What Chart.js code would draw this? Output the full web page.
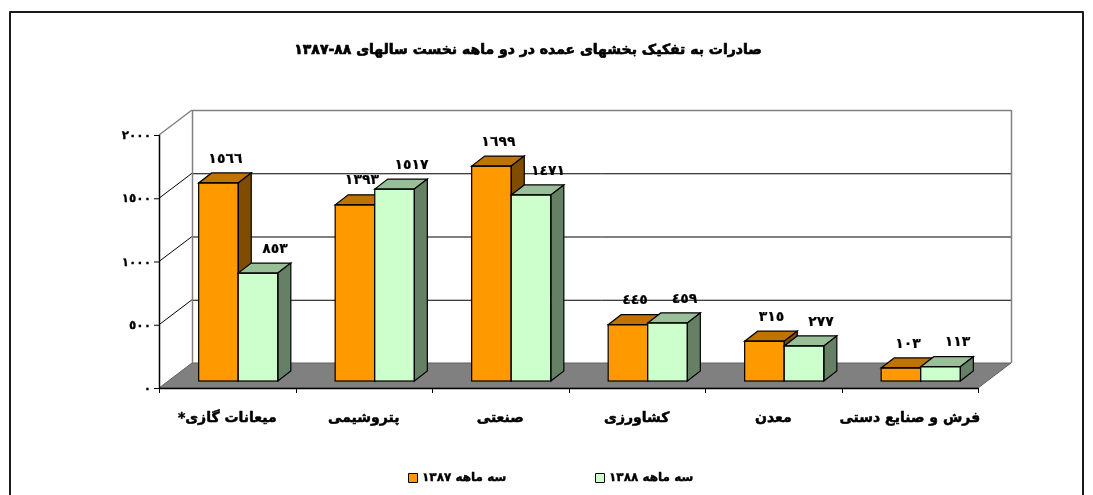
<!DOCTYPE html>
<html>
<head>
<meta charset="utf-8">
<script src="https://cdn.jsdelivr.net/npm/chart.js@4/dist/chart.umd.min.js"></script>
<style>
html,body{margin:0;padding:0;background:#fff;}
#wrap{width:1093px;height:495px;position:relative;}
</style>
</head>
<body>
<div id="wrap"><canvas id="c"></canvas></div>
<script>
// ---- data ----
const categories = ['میعانات گازی*', 'پتروشیمی', 'صنعتی', 'کشاورزی', 'معدن', 'فرش و صنایع دستی'];
const series1387 = [1566, 1393, 1699, 445, 315, 103];
const series1388 = [853, 1517, 1471, 459, 277, 113];
const seriesNames = ['سه ماهه ۱۳۸۷', 'سه ماهه ۱۳۸۸'];
const yTickValues = [0, 500, 1000, 1500, 2000];
const yTickLabels = ['٠', '٥٠٠', '١٠٠٠', '١٥٠٠', '٢٠٠٠'];
const chartTitle = 'صادرات به تفکیک بخشهای عمده در دو ماهه نخست سالهای ۸۸-۱۳۸۷';

const AR = '٠١٢٣٤٥٦٧٨٩';
function toAr(n){ return String(n).replace(/[0-9]/g, d => AR[+d]); }

const FONT = "'DejaVu Sans', sans-serif";
const FRONT = {dx: -11, dy: 7};
const BACK = {dx: 22, dy: -18};
const DEPTH = {dx: 13, dy: -10};
const faceColors = [
  {front: '#FF9900', top: '#BF7300', side: '#804D00'},
  {front: '#CCFFCC', top: '#99BF99', side: '#668066'}
];
const labelDx = [7, 17];

function poly(ctx, pts, fill, stroke, lw){
  ctx.beginPath();
  ctx.moveTo(pts[0][0], pts[0][1]);
  for (let i = 1; i < pts.length; i++) ctx.lineTo(pts[i][0], pts[i][1]);
  ctx.closePath();
  if (fill){ ctx.fillStyle = fill; ctx.fill(); }
  if (stroke){ ctx.strokeStyle = stroke; ctx.lineWidth = lw || 1; ctx.stroke(); }
}
function line(ctx, x0, y0, x1, y1, color, lw){
  ctx.beginPath(); ctx.moveTo(x0, y0); ctx.lineTo(x1, y1);
  ctx.strokeStyle = color; ctx.lineWidth = lw || 1; ctx.stroke();
}
function heavyText(ctx, s, x, y, sw){
  ctx.fillText(s, x, y);
  if (sw){ ctx.lineWidth = sw; ctx.strokeStyle = ctx.fillStyle; ctx.lineJoin = 'round'; ctx.strokeText(s, x, y); }
}

const excel3d = {
  id: 'excel3d',
  beforeDatasetsDraw(chart){
    const ctx = chart.ctx, a = chart.chartArea, ys = chart.scales.y, xs = chart.scales.x;
    ctx.save();
    const fx0 = a.left + FRONT.dx, fx1 = a.right + FRONT.dx;
    const bx0 = a.left + BACK.dx, bx1 = a.right + BACK.dx;
    const y0 = ys.getPixelForValue(0), yTop = ys.getPixelForValue(yTickValues[yTickValues.length-1]);
    // floor
    poly(ctx, [[fx0, y0+FRONT.dy],[fx1, y0+FRONT.dy],[bx1, y0+BACK.dy],[bx0, y0+BACK.dy]], '#808080', '#606060', 1);
    // gridlines
    yTickValues.forEach(v => {
      const y = ys.getPixelForValue(v);
      if (v === 0) return;
      const isTop = v === yTickValues[yTickValues.length-1];
      const col = isTop ? '#808080' : '#000000';
      line(ctx, bx0, y + BACK.dy + 0.5, bx1, y + BACK.dy + 0.5, col, isTop ? 1.5 : 1);
      line(ctx, fx0, y + FRONT.dy, bx0, y + BACK.dy, col, isTop ? 1.5 : 1);
    });
    // back wall edges
    line(ctx, bx0 + 0.5, yTop + BACK.dy, bx0 + 0.5, y0 + BACK.dy, '#808080', 1.5);
    line(ctx, bx1 + 0.5, yTop + BACK.dy, bx1 + 0.5, y0 + BACK.dy, '#808080', 1.5);
    // front value axis
    line(ctx, fx0 + 0.5, yTop + FRONT.dy, fx0 + 0.5, y0 + FRONT.dy, '#000', 1.5);
    ctx.font = 'bold 12px ' + FONT;
    ctx.fillStyle = '#000';
    ctx.textBaseline = 'middle';
    ctx.direction = 'ltr';
    yTickValues.forEach((v, i) => {
      const y = ys.getPixelForValue(v) + FRONT.dy;
      line(ctx, fx0 - 5, y + 0.5, fx0, y + 0.5, '#000', 1);
      ctx.textAlign = 'right';
      heavyText(ctx, yTickLabels[i], fx0 - 8, y + 1, 0.3);
    });
    // front category axis
    line(ctx, fx0, y0 + FRONT.dy + 0.5, fx1, y0 + FRONT.dy + 0.5, '#000', 1.5);
    const n = categories.length;
    const cw = (a.right - a.left) / n;
    for (let i = 0; i <= n; i++){
      const x = Math.round(a.left + i * cw + FRONT.dx) + 0.5;
      line(ctx, x, y0 + FRONT.dy, x, y0 + FRONT.dy + 5, '#000', 1);
    }
    ctx.direction = 'rtl';
    ctx.font = 'bold 14px ' + FONT;
    ctx.textAlign = 'center';
    categories.forEach((c, i) => {
      const x = xs.getPixelForValue(i) + FRONT.dx;
      heavyText(ctx, c, x, y0 + FRONT.dy + 30, 0.5);
    });
    ctx.restore();
  },
  beforeDatasetDraw(){ return false; },
  afterDatasetsDraw(chart){
    const ctx = chart.ctx;
    const metas = chart.data.datasets.map((d, i) => chart.getDatasetMeta(i));
    ctx.save();
    for (let c = 0; c < categories.length; c++){
      metas.forEach((meta, di) => {
        const bar = meta.data[c];
        const col = faceColors[di];
        bar.draw(ctx, chart.chartArea);
        const p = bar.getProps(['x','y','base','width'], true);
        const x0 = p.x - p.width/2, x1 = p.x + p.width/2;
        const yt = Math.min(p.y, p.base), yb = Math.max(p.y, p.base);
        poly(ctx, [[x0, yt],[x1, yt],[x1+DEPTH.dx, yt+DEPTH.dy],[x0+DEPTH.dx, yt+DEPTH.dy]], col.top, '#000', 1.2);
        poly(ctx, [[x1, yt],[x1+DEPTH.dx, yt+DEPTH.dy],[x1+DEPTH.dx, yb+DEPTH.dy],[x1, yb]], col.side, '#000', 1.2);
        ctx.strokeStyle = '#000'; ctx.lineWidth = 1.2;
        ctx.strokeRect(x0, yt, x1 - x0, yb - yt);
      });
    }
    ctx.restore();
  },
  afterDraw(chart){
    const ctx = chart.ctx;
    ctx.save();
    ctx.fillStyle = '#000';
    // data labels
    ctx.direction = 'ltr';
    ctx.font = 'bold 14px ' + FONT;
    ctx.textAlign = 'center';
    ctx.textBaseline = 'middle';
    chart.data.datasets.forEach((ds, di) => {
      const meta = chart.getDatasetMeta(di);
      meta.data.forEach((bar, i) => {
        heavyText(ctx, toAr(ds.data[i]), bar.x + labelDx[di], bar.y - 24, 0.2);
      });
    });
    // title
    ctx.direction = 'rtl';
    ctx.font = 'bold 14px ' + FONT;
    heavyText(ctx, chartTitle, 528, 50, 0.7);
    // legend
    ctx.font = 'bold 12px ' + FONT;
    const legX = [408, 595];
    seriesNames.forEach((s, i) => {
      ctx.fillStyle = faceColors[i].front;
      ctx.fillRect(legX[i] + 0.5, 473.5, 9, 9);
      ctx.strokeStyle = '#000'; ctx.lineWidth = 1;
      ctx.strokeRect(legX[i] + 0.5, 473.5, 9, 9);
      ctx.fillStyle = '#000';
      const w = ctx.measureText(s).width;
      ctx.textAlign = 'center';
      heavyText(ctx, s, legX[i] + 14 + w/2, 478, 0.4);
    });
    // outer frame
    ctx.strokeStyle = '#1a1a1a'; ctx.lineWidth = 2;
    ctx.strokeRect(10, 12, 1073, 600);
    ctx.restore();
  }
};

new Chart(document.getElementById('c'), {
  type: 'bar',
  data: {
    labels: categories,
    datasets: [
      {label: seriesNames[0], data: series1387, backgroundColor: faceColors[0].front, borderWidth: 0},
      {label: seriesNames[1], data: series1388, backgroundColor: faceColors[1].front, borderWidth: 0}
    ]
  },
  options: {
    responsive: true,
    maintainAspectRatio: false,
    animation: false,
    devicePixelRatio: 1,
    layout: {padding: {left: 170, right: 104, top: 128, bottom: 114}},
    datasets: {bar: {categoryPercentage: 0.58, barPercentage: 1.0}},
    scales: {
      x: {display: false, offset: true},
      y: {display: false, min: 0, max: 2000}
    },
    plugins: {legend: {display: false}, title: {display: false}, tooltip: {enabled: false}}
  },
  plugins: [excel3d]
});
</script>
</body>
</html>
